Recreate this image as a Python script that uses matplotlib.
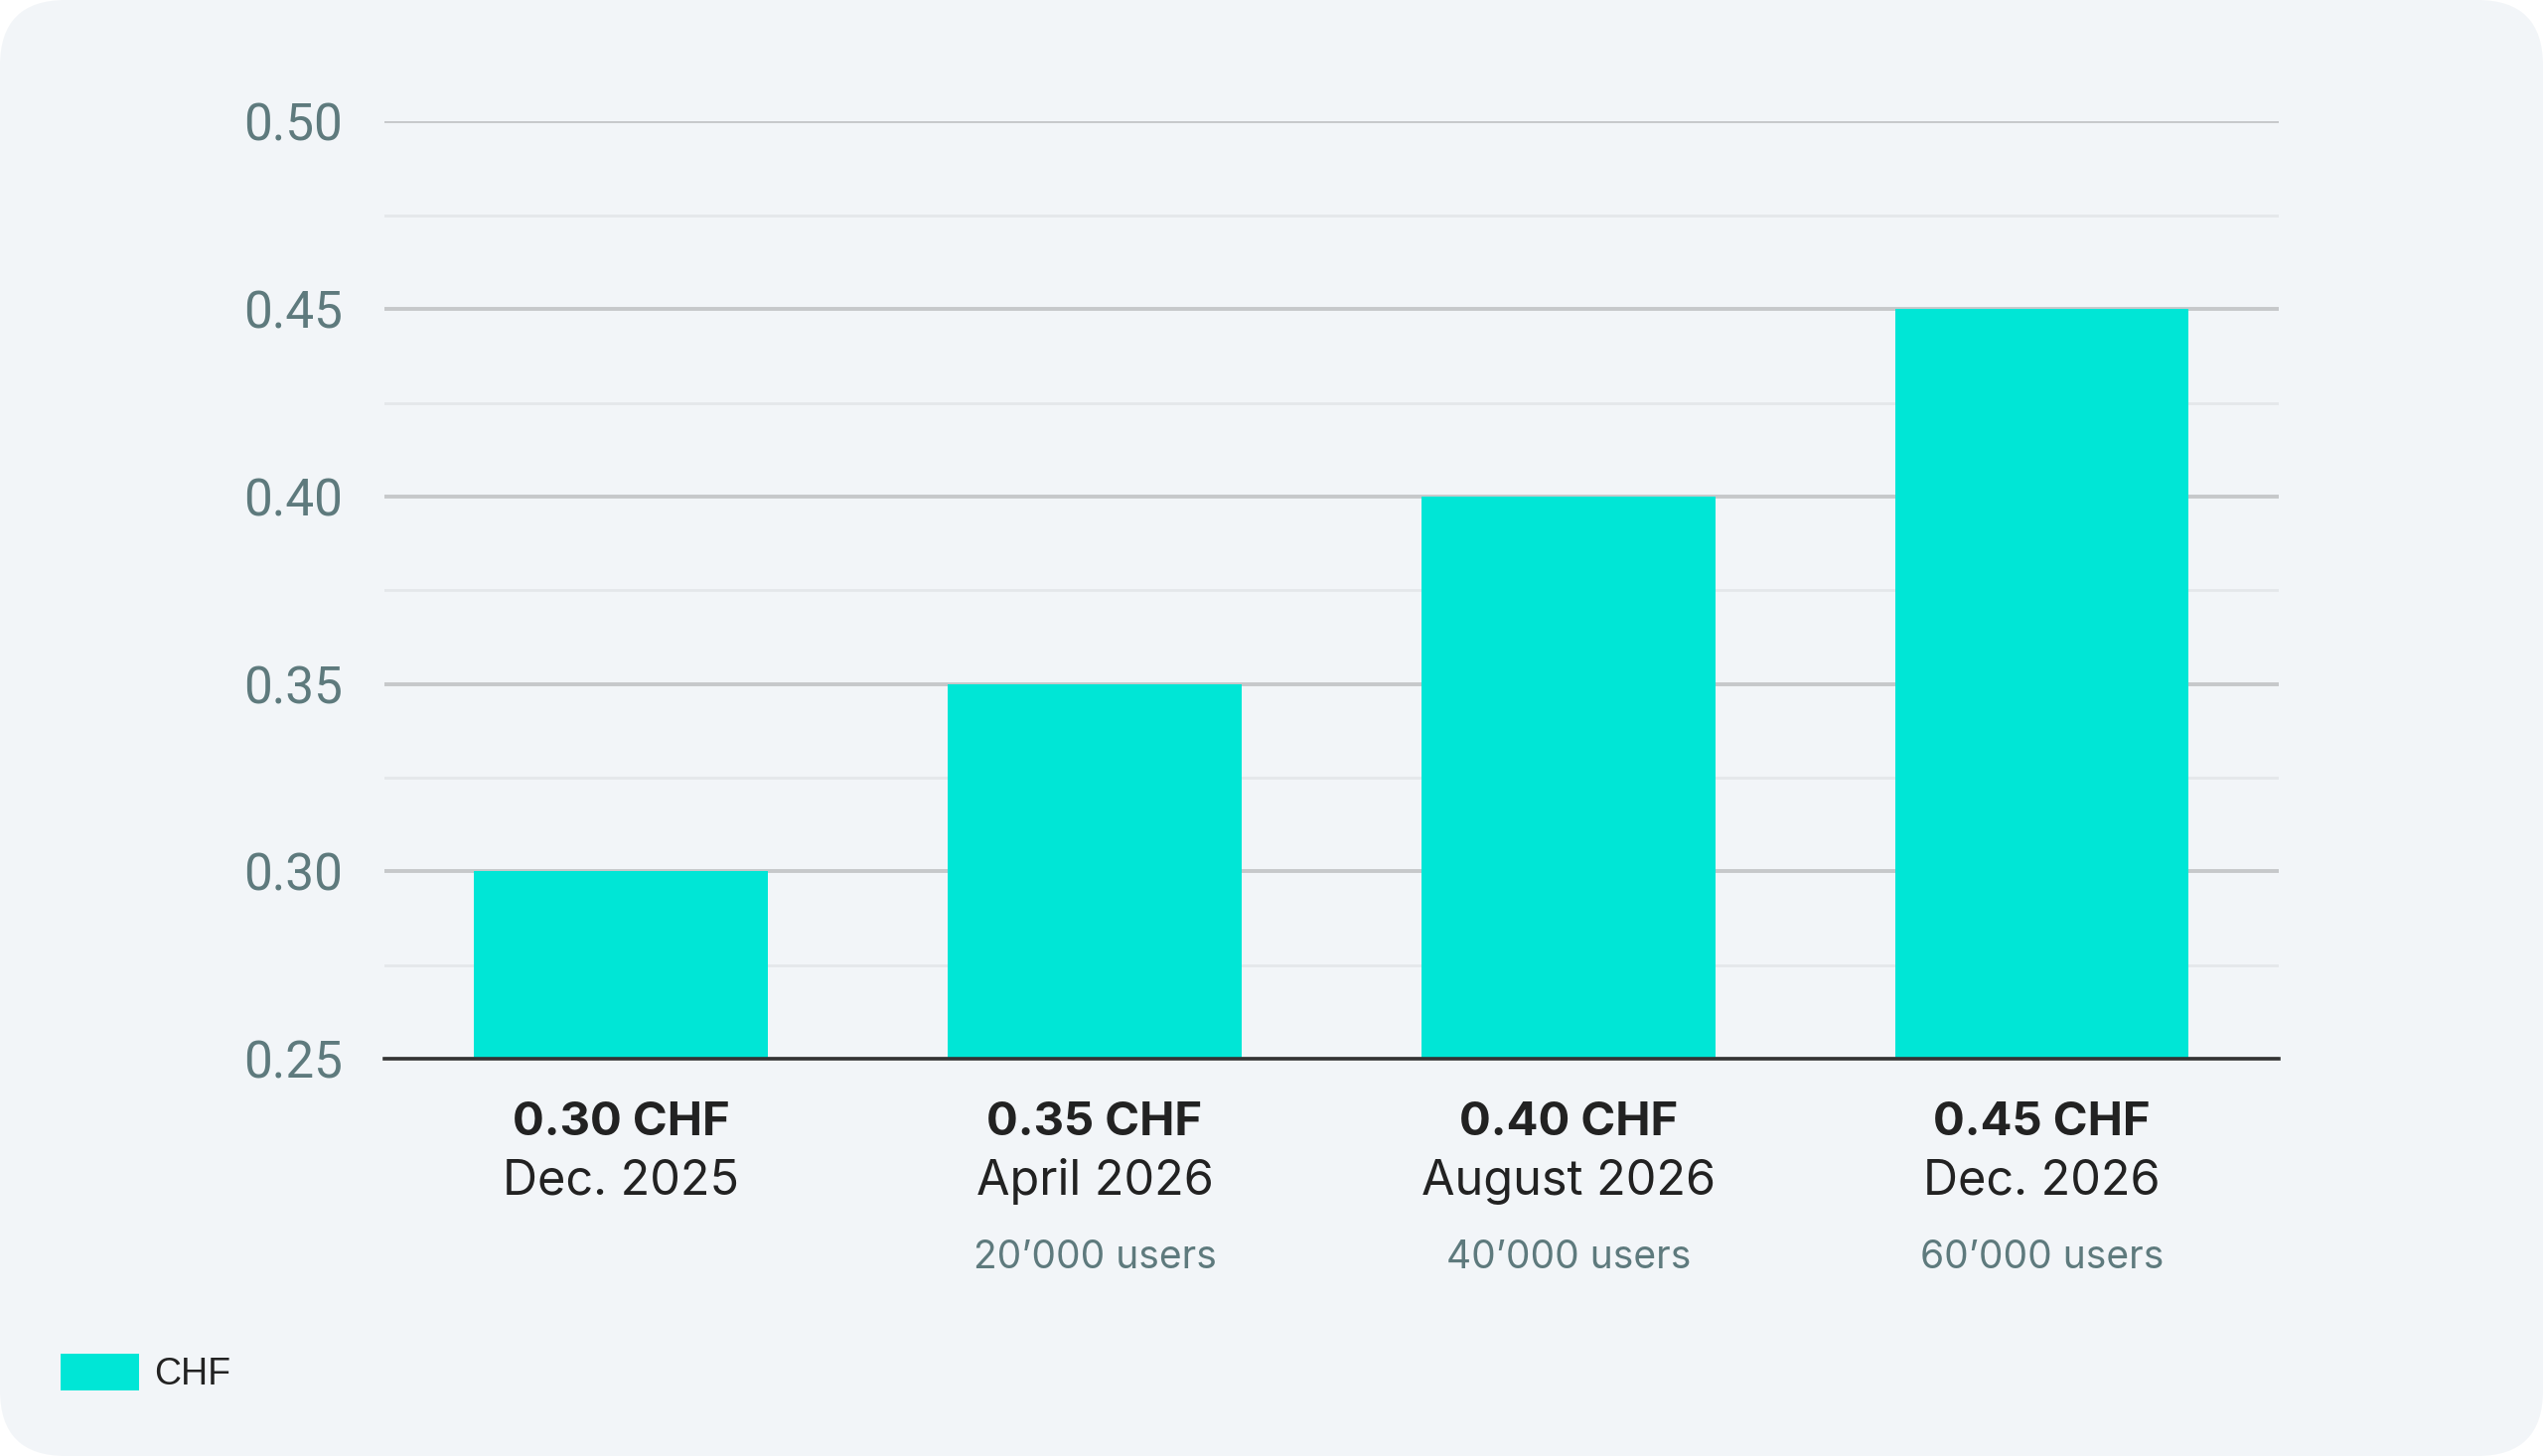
import matplotlib.pyplot as plt
from matplotlib.patches import FancyBboxPatch, Patch
from matplotlib.ticker import MultipleLocator

# data
prices = [0.30, 0.35, 0.40, 0.45]
price_labels = ['0.30 CHF', '0.35 CHF', '0.40 CHF', '0.45 CHF']
dates = ['Dec. 2025', 'April 2026', 'August 2026', 'Dec. 2026']
users = ['', '20\u2019000 users', '40\u2019000 users', '60\u2019000 users']
y_ticks = [0.25, 0.30, 0.35, 0.40, 0.45, 0.50]

teal = '#00e6d6'
card = '#f2f5f8'
tick_col = '#5e7a7d'
dark = '#222222'

fig = plt.figure(figsize=(12.8, 7.33), dpi=200)
fig.patch.set_facecolor('white')

# rounded card behind everything
bg = FancyBboxPatch((0, 0), 12.8, 7.33, boxstyle='round,pad=0,rounding_size=0.33',
                    transform=fig.dpi_scale_trans, facecolor=card, edgecolor='none',
                    zorder=-10)
fig.patches.append(bg)

ax = fig.add_axes([0.1511, 0.2728, 0.7450, 0.6437])
ax.set_facecolor('none')
ax.set_zorder(1)

x = list(range(len(prices)))
ax.bar(x, [p - y_ticks[0] for p in prices], bottom=y_ticks[0], width=0.62,
       color=teal, zorder=2)

ax.set_xlim(-0.5, 3.5)
ax.set_ylim(y_ticks[0], y_ticks[-1])
ax.set_yticks(y_ticks)
ax.set_yticklabels(['%.2f' % t for t in y_ticks])
ax.yaxis.set_minor_locator(MultipleLocator(0.025))
ax.grid(axis='y', which='major', color='#c6c8ca', linewidth=1.4, zorder=1)
ax.grid(axis='y', which='minor', color='#e4e7ea', linewidth=1.0, zorder=1)
ax.set_axisbelow(True)
ax.set_xticks([])
ax.tick_params(axis='y', which='both', length=0, pad=15, labelsize=18.5,
               labelcolor=tick_col)
for lab in ax.get_yticklabels():
    lab.set_family('Roboto')

for s in ['top', 'right', 'left']:
    ax.spines[s].set_visible(False)
ax.spines['bottom'].set_color('#333333')
ax.spines['bottom'].set_linewidth(1.3)
ax.spines['bottom'].set_zorder(3)

# category labels under the bars
for i in x:
    ax.annotate(price_labels[i], (i, -0.0685), xycoords=('data', 'axes fraction'),
                ha='center', va='center', fontsize=17, fontweight='bold',
                color=dark, family='Inter')
    ax.annotate(dates[i], (i, -0.131), xycoords=('data', 'axes fraction'),
                ha='center', va='center', fontsize=17.5, color=dark, family='Inter')
    if users[i]:
        ax.annotate(users[i], (i, -0.2125), xycoords=('data', 'axes fraction'),
                    ha='center', va='center', fontsize=14, color=tick_col,
                    family='Inter')

# legend bottom-left
leg = fig.legend(handles=[Patch(facecolor=teal, edgecolor='none', label='CHF')],
                 loc='center left', bbox_to_anchor=(0.0107, 0.0568), frameon=False,
                 handlelength=2.1, handleheight=1.15, handletextpad=0.4,
                 prop={'family': 'Liberation Sans', 'size': 13.5})
for t in leg.get_texts():
    t.set_color(dark)

fig.savefig('out.png', dpi=200, facecolor=fig.get_facecolor())
